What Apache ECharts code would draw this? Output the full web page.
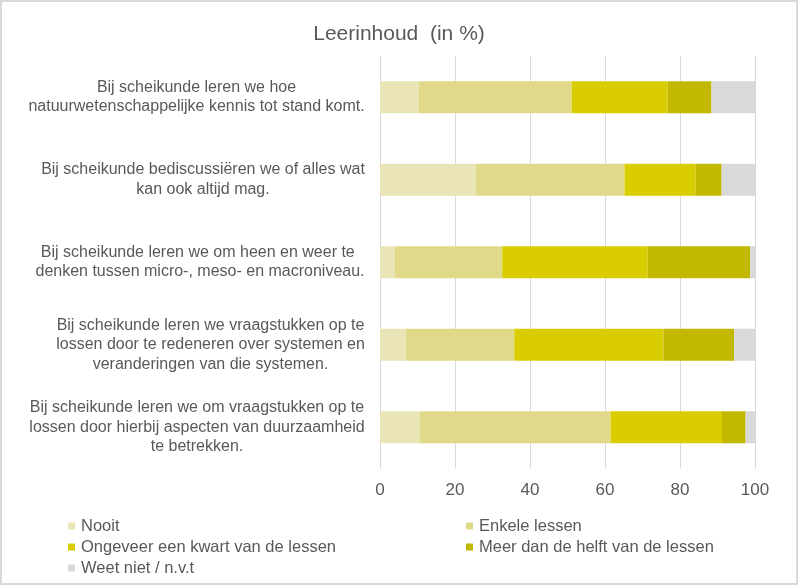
<!DOCTYPE html>
<html><head><meta charset="utf-8">
<script src="https://cdn.jsdelivr.net/npm/echarts@6/dist/echarts.min.js"></script>
<style>
html,body{margin:0;padding:0;background:#fff;}
#wrap{position:relative;width:798px;height:585px;}
#chart{position:absolute;left:0;top:0;width:798px;height:585px;}
#frame{position:absolute;left:0;top:0;width:798px;height:585px;box-sizing:border-box;border:2px solid #d9d9d9;pointer-events:none;}
</style></head>
<body><div id="wrap"><div id="chart"></div><div id="frame"></div></div>
<script>
var categories = [
  "Bij scheikunde leren we hoe\nnatuurwetenschappelijke kennis tot stand komt.",
  "Bij scheikunde bediscussiëren we of alles wat\nkan ook altijd mag.",
  "Bij scheikunde leren we om heen en weer te \ndenken tussen micro-, meso- en macroniveau.",
  "Bij scheikunde leren we vraagstukken op te\nlossen door te redeneren over systemen en\nveranderingen van die systemen.",
  "Bij scheikunde leren we om vraagstukken op te\nlossen door hierbij aspecten van duurzaamheid\nte betrekken."
];
var seriesNames = ["Nooit", "Enkele lessen", "Ongeveer een kwart van de lessen", "Meer dan de helft van de lessen", "Weet niet / n.v.t"];
var nooit  = [10.4, 25.6, 4.0, 6.9, 10.5];
var enkele = [40.7, 39.6, 28.6, 28.9, 51.0];
var kwart  = [25.6, 19.0, 38.8, 39.8, 29.7];
var helft  = [11.7, 6.9, 27.3, 18.8, 6.3];
var weet   = [11.6, 8.9, 1.3, 5.6, 2.5];
var xTicks = [0, 20, 40, 60, 80, 100];

var colors = ["#e9e5b6", "#e0d98a", "#d9cc00", "#c2b800", "#d9d9d9"];
var values = [nooit, enkele, kwart, helft, weet];
var FONT = '"Liberation Sans", Arial, sans-serif';
var textColor = '#595959';
var LABEL_SIZE = 16;

// rich styles so each label block is right-anchored with centered lines
var cv = document.createElement('canvas').getContext('2d');
cv.font = LABEL_SIZE + 'px ' + FONT;
var rich = {};
categories.forEach(function(c, i){
  var w = 0;
  c.split('\n').forEach(function(l){ w = Math.max(w, cv.measureText(l).width); });
  rich['r'+i] = {width: Math.ceil(w), align: 'center', fontSize: LABEL_SIZE, lineHeight: 19.5, color: textColor, fontFamily: FONT};
});

var chart = echarts.init(document.getElementById('chart'), null, {renderer:'canvas'});
var series = seriesNames.map(function(n, i){
  return {name: n, type: 'bar', stack: 'total', barWidth: 32, data: values[i],
    itemStyle: {color: colors[i]}, emphasis: {disabled: true}};
});
var legendPos = [[68, 517], [466, 517], [68, 538], [466, 538], [68, 559]];
var legends = seriesNames.map(function(n, i){
  return {data: [n], left: legendPos[i][0], top: legendPos[i][1], padding: 0,
    itemWidth: 7, itemHeight: 7, itemGap: 0, icon: 'rect',
    textStyle: {fontSize: 16.5, color: textColor, fontFamily: FONT, padding: [0,0,0,1], lineHeight: 18}};
});
chart.setOption({
  animation: false,
  title: {text: 'Leerinhoud  (in %)', left: 'center', top: 19,
    textStyle: {fontSize: 21, fontWeight: 'normal', color: textColor, fontFamily: FONT}},
  legend: legends,
  grid: {left: 380, right: 43, top: 56, bottom: 116.5, containLabel: false},
  xAxis: {type: 'value', min: 0, max: 100, interval: 20,
    axisLine: {show: false}, axisTick: {show: false},
    splitLine: {lineStyle: {color: '#d9d9d9', width: 1}},
    axisLabel: {color: textColor, fontSize: 17, fontFamily: FONT, margin: 13,
      formatter: function(v){ return xTicks.indexOf(v) >= 0 ? String(v) : ''; }}},
  yAxis: {type: 'category', data: categories, inverse: true,
    axisLine: {show: false}, axisTick: {show: false},
    axisLabel: {margin: 15, align: 'right', interval: 0,
      formatter: function(v, idx){
        return v.split('\n').map(function(l){ return '{r'+idx+'|'+l+'}'; }).join('\n');
      }, rich: rich}},
  series: series
});
</script></body></html>
